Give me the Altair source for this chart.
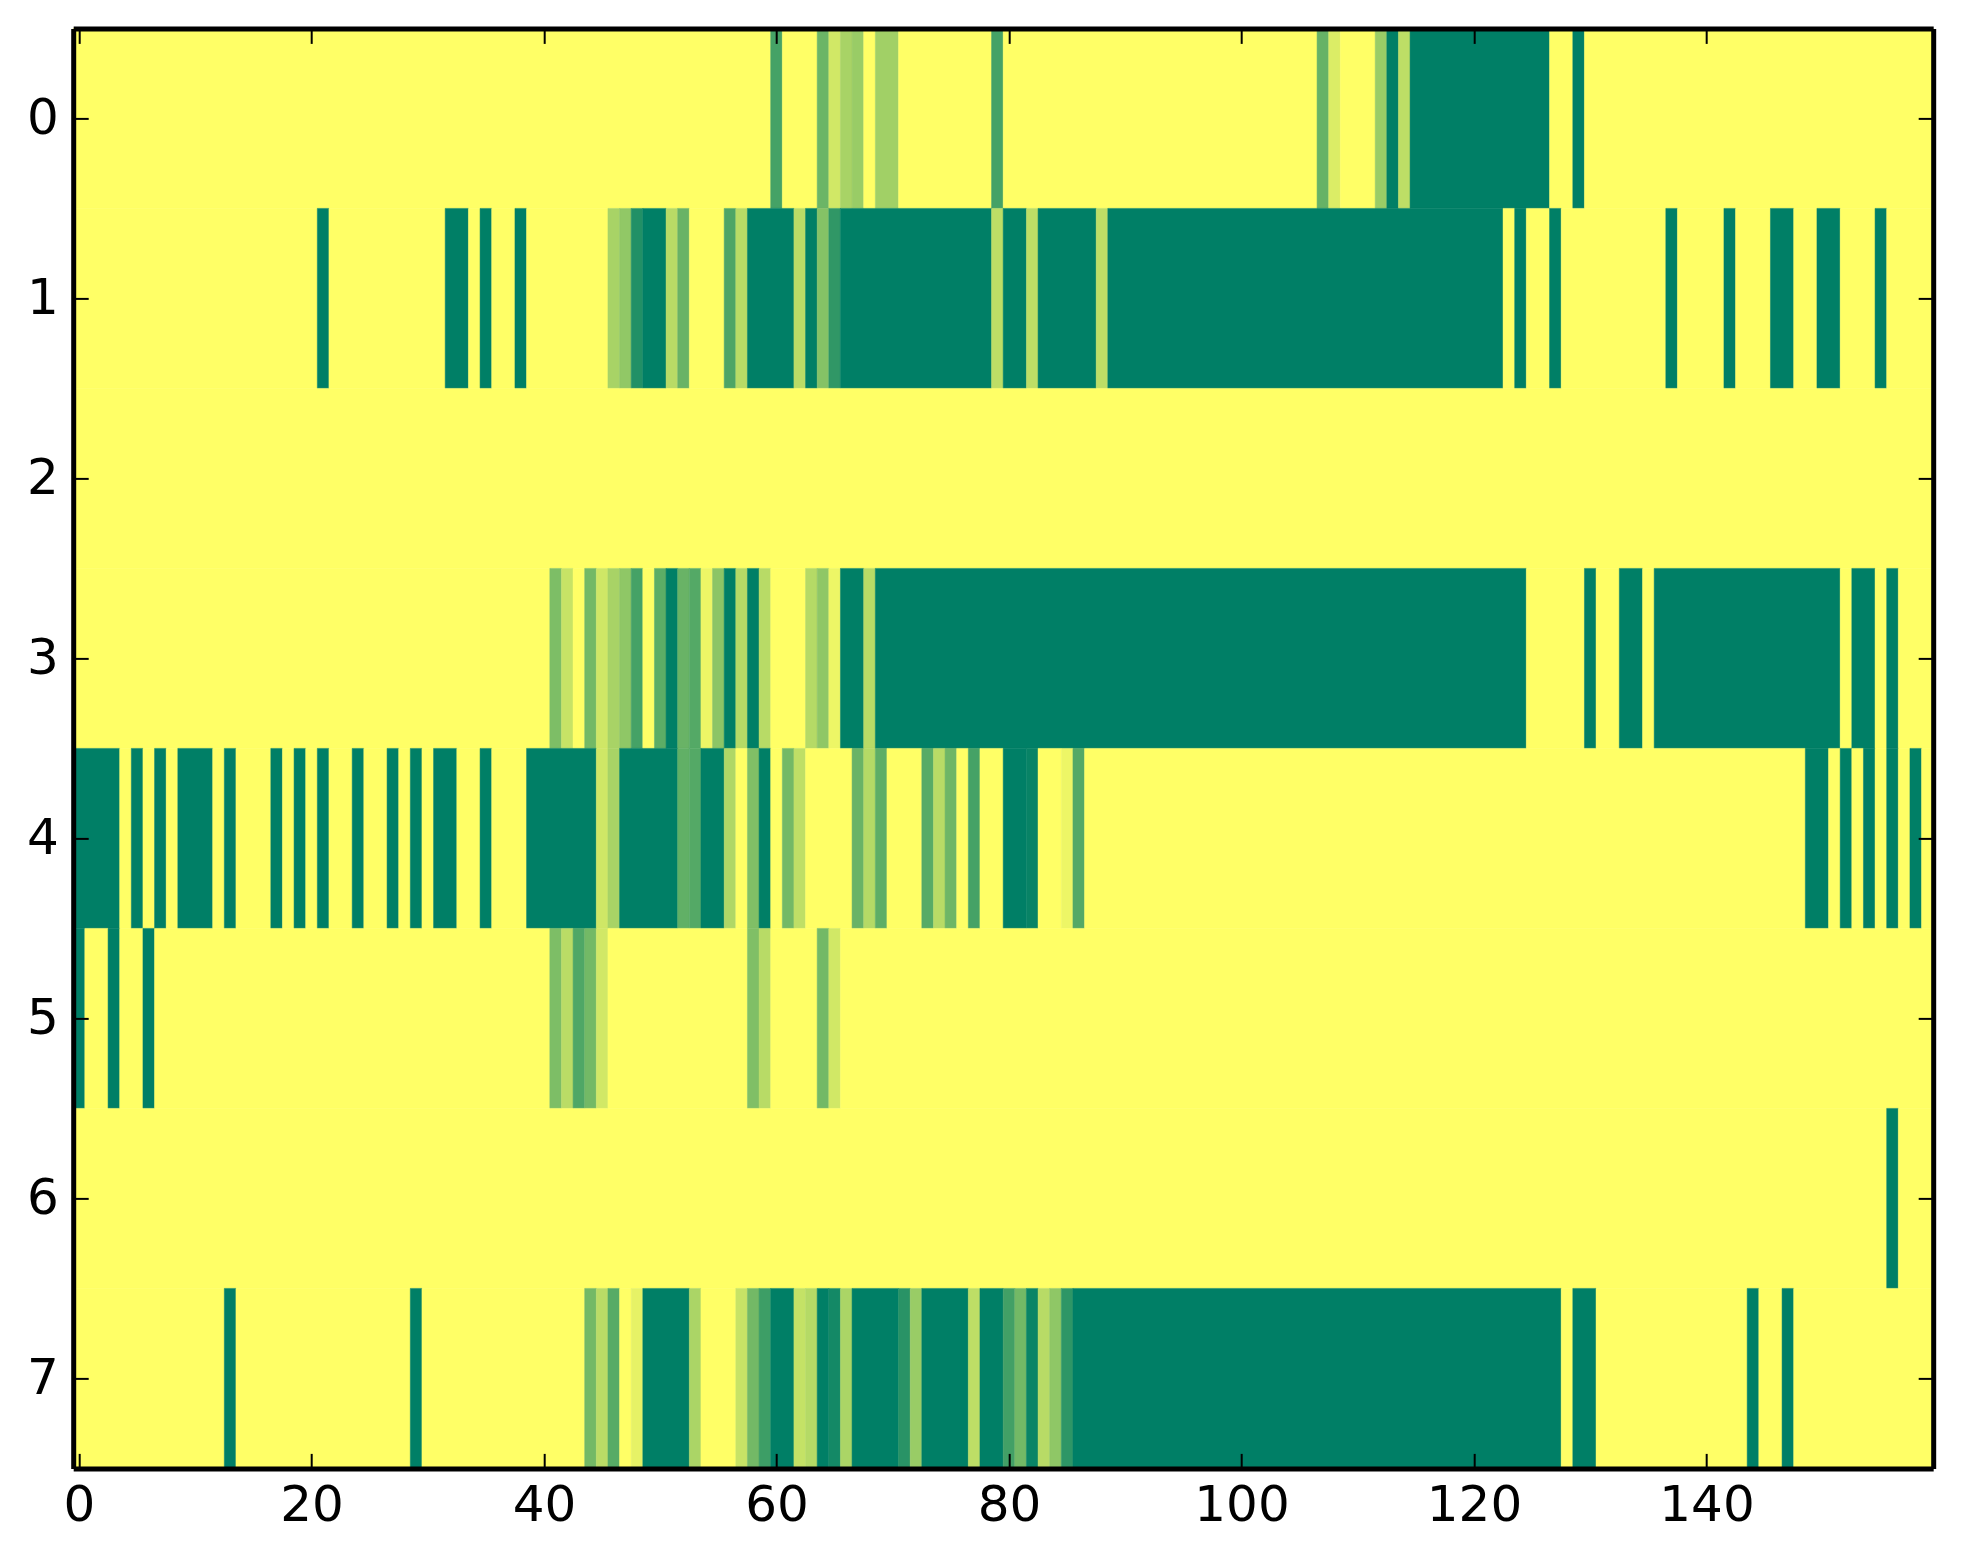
import altair as alt
import pandas as pd

N_COLS = 160
X_TICKS = [0, 20, 40, 60, 80, 100, 120, 140]
Y_TICKS = [0, 1, 2, 3, 4, 5, 6, 7]

# (first column, one past last column, value) for every non-yellow stretch
ROW_0 = [(60, 61, .73), (64, 65, .58), (65, 66, .18), (66, 67, .34), (67, 68, .40),
         (69, 71, .37), (79, 80, .73), (107, 108, .60), (108, 109, .14),
         (112, 113, .40), (113, 114, 1), (114, 115, .26), (115, 127, 1), (129, 130, 1)]
ROW_1 = [(21, 22, 1), (32, 34, 1), (35, 36, 1), (38, 39, 1), (46, 47, .34), (47, 48, .43),
         (48, 49, .87), (49, 51, 1), (51, 52, .28), (52, 53, .59), (56, 57, .70),
         (57, 58, .28), (58, 62, 1), (62, 63, .27), (63, 64, 1), (64, 65, .48), (65, 66, .81),
         (66, 79, 1), (79, 80, .26), (80, 82, 1), (82, 83, .26), (83, 88, 1), (88, 89, .26),
         (89, 123, 1), (124, 125, 1), (127, 128, 1), (137, 138, 1), (142, 143, 1),
         (146, 148, 1), (150, 152, 1), (155, 156, 1)]
ROW_2 = []
ROW_3 = [(41, 42, .51), (42, 43, .22), (44, 45, .55), (45, 46, .19), (46, 47, .34),
         (47, 48, .44), (48, 49, .73), (50, 51, .64), (51, 52, 1), (52, 53, .59), (53, 54, .67),
         (54, 55, .07), (55, 56, .45), (56, 57, 1), (57, 58, .29), (58, 59, 1), (59, 60, .28),
         (63, 64, .29), (64, 65, .44), (65, 66, .07), (66, 68, 1), (68, 69, .28), (69, 125, 1),
         (130, 131, 1), (133, 135, 1), (136, 152, 1), (153, 155, 1), (156, 157, 1)]
ROW_4 = [(0, 4, 1), (5, 6, 1), (7, 8, 1), (9, 12, 1), (13, 14, 1), (17, 18, 1), (19, 20, 1),
         (21, 22, 1), (24, 25, 1), (27, 28, 1), (29, 30, 1), (31, 33, 1), (35, 36, 1),
         (39, 45, 1), (45, 46, .19), (46, 47, .34), (47, 52, 1), (52, 53, .62), (53, 54, .67),
         (54, 56, 1), (56, 57, .31), (58, 59, .50), (59, 60, 1), (61, 62, .55), (62, 63, .25),
         (67, 68, .59), (68, 69, .29), (69, 70, .63), (73, 74, .66), (74, 75, .28), (75, 76, .57),
         (77, 78, .73), (80, 82, 1), (82, 83, .97), (85, 86, .07), (86, 87, .67),
         (149, 151, 1), (152, 153, 1), (154, 155, 1), (156, 157, 1), (158, 159, 1)]
ROW_5 = [(0, 1, 1), (3, 4, 1), (6, 7, 1), (41, 42, .51), (42, 43, .27), (43, 44, .69),
         (44, 45, .55), (45, 46, .18), (58, 59, .50), (59, 60, .28), (64, 65, .55), (65, 66, .18)]
ROW_6 = [(156, 157, 1)]
ROW_7 = [(13, 14, 1), (29, 30, 1), (44, 45, .55), (45, 46, .27), (46, 47, .66), (48, 49, .10),
         (49, 53, 1), (53, 54, .33), (57, 58, .22), (58, 59, .55), (59, 60, .76), (60, 62, 1),
         (62, 63, .23), (63, 64, .29), (64, 65, 1), (65, 66, .92), (66, 67, .33), (67, 71, 1),
         (71, 72, .84), (72, 73, .40), (73, 77, 1), (77, 78, .26), (78, 80, 1), (80, 81, .74),
         (81, 82, .55), (82, 83, .96), (83, 84, .28), (84, 85, .44), (85, 86, .82),
         (86, 128, 1), (129, 131, 1), (144, 145, 1), (147, 148, 1)]

ROWS = [ROW_0, ROW_1, ROW_2, ROW_3, ROW_4, ROW_5, ROW_6, ROW_7]

records = []
for r, runs in enumerate(ROWS):
    pos = 0
    for a, b, v in runs:
        if a > pos:
            records.append({"x": pos - .5, "x2": a - .5, "y": r - .5, "y2": r + .5, "v": 0.0})
        records.append({"x": a - .5, "x2": b - .5, "y": r - .5, "y2": r + .5, "v": float(v)})
        pos = b
    if pos < N_COLS:
        records.append({"x": pos - .5, "x2": N_COLS - .5, "y": r - .5, "y2": r + .5, "v": 0.0})
df = pd.DataFrame(records)

x_scale = alt.Scale(domain=[-0.5, 159.5], nice=False, zero=False)
y_scale = alt.Scale(domain=[-0.5, 7.5], nice=False, zero=False, reverse=True)
c_scale = alt.Scale(domain=[0, 1], range=["#ffff66", "#007f66"], interpolate="rgb")

FONT = "DejaVu Sans"
LABEL = 50


def axis(orient, values, labels, pad=0):
    return alt.Axis(orient=orient, values=values, title=None, grid=False, labels=labels,
                    labelFont=FONT, labelFontSize=LABEL, labelColor="black", labelPadding=pad,
                    labelFlush=False, labelOverlap=False,
                    domain=True, domainColor="black", domainWidth=5,
                    ticks=True, tickColor="black", tickWidth=2, tickSize=alt.expr("-15"),
                    format="d", zindex=1)


main = alt.Chart(df).mark_rect(strokeWidth=0.5).encode(
    x=alt.X("x:Q", scale=x_scale, axis=axis("bottom", X_TICKS, True, 27)),
    x2="x2:Q",
    y=alt.Y("y:Q", scale=y_scale, axis=axis("left", Y_TICKS, True, 30)),
    y2="y2:Q",
    color=alt.Color("v:Q", scale=c_scale, legend=None),
    stroke=alt.Color("v:Q", scale=c_scale, legend=None),
)

opposite = alt.Chart(df).mark_rect(opacity=0).encode(
    x=alt.X("x:Q", scale=x_scale, axis=axis("top", X_TICKS, False)),
    x2="x2:Q",
    y=alt.Y("y:Q", scale=y_scale, axis=axis("right", Y_TICKS, False)),
    y2="y2:Q",
)

chart = (
    alt.layer(main, opposite)
    .resolve_axis(x="independent", y="independent")
    .properties(
        width=1860,
        height=1440,
        autosize=alt.AutoSizeParams(type="none"),
        padding={"left": 65.2, "top": 20.4, "right": 20, "bottom": 80},
        background="white",
    )
    .configure_view(stroke=None)
)

chart.save("out.html", embed_options={"renderer": "svg", "actions": False})
